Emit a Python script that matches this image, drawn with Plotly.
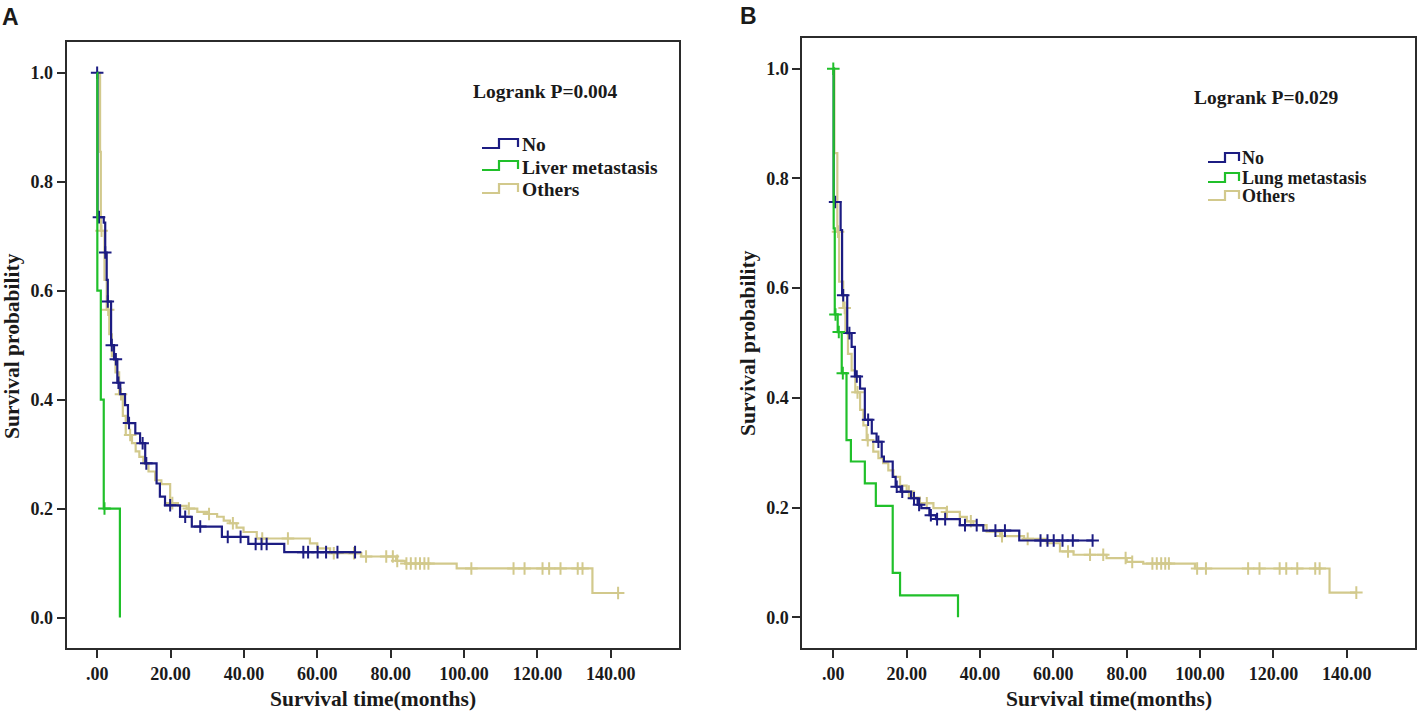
import numpy as np
import plotly.graph_objects as go

W, H = 1417, 712

# ---------------- data ----------------
x_tickvals = [0, 20, 40, 60, 80, 100, 120, 140]
x_ticktext = [".00", "20.00", "40.00", "60.00", "80.00", "100.00", "120.00", "140.00"]
y_tickvals = [0.0, 0.2, 0.4, 0.6, 0.8, 1.0]
y_ticktext = ["0.0", "0.2", "0.4", "0.6", "0.8", "1.0"]

group_names_a = ["No", "Liver metastasis", "Others"]
group_names_b = ["No", "Lung metastasis", "Others"]
pvalue_a = "Logrank P=0.004"
pvalue_b = "Logrank P=0.029"

# Panel A - No
a_no_t = [0.1, 1.8, 2.2, 2.6, 2.9, 3.8, 4.6, 5.5, 6.3, 7.6, 8.4, 10.4, 11.7, 13.1,
          16.2, 17.1, 18.5, 22.6, 25.8, 34.0, 41.2, 51.0]
a_no_s = [0.735, 0.725, 0.67, 0.62, 0.58, 0.50, 0.474, 0.431, 0.41, 0.39, 0.357, 0.338,
          0.32, 0.283, 0.246, 0.222, 0.206, 0.185, 0.167, 0.148, 0.135, 0.12]
a_no_end = 70.3
a_no_cens = [0.0, 0.5, 2.2, 2.9, 4.0, 5.1, 5.8, 8.7, 12.4, 13.4, 19.9, 24.0, 28.1,
             35.6, 39.1, 43.2, 44.8, 46.2, 56.2, 57.5, 60.1, 62.4, 65.5, 70.3]

# Panel A - Liver metastasis
a_liv_t = [0.05, 1.0, 1.8, 6.2]
a_liv_s = [0.6, 0.4, 0.2, 0.0]
a_liv_end = 6.2
a_liv_cens = [2.0]

# Panel A - Others
a_oth_t = [0.8, 1.0, 2.0, 2.6, 3.3, 4.0, 5.0, 6.0, 7.0, 7.8, 9.5, 10.5, 11.5, 12.6, 14.0,
           15.8, 17.5, 19.9, 22.0, 24.4, 27.3, 30.0, 32.7, 34.5, 36.2, 38.0, 39.9, 43.5,
           58.0, 60.0, 63.5, 72.0, 81.5, 84.0, 98.0, 135.0]
a_oth_s = [0.855, 0.71, 0.62, 0.565, 0.52, 0.48, 0.45, 0.41, 0.37, 0.335, 0.32, 0.305,
           0.295, 0.283, 0.268, 0.252, 0.245, 0.21, 0.205, 0.2, 0.194, 0.19, 0.185, 0.178,
           0.173, 0.165, 0.157, 0.145, 0.136, 0.127, 0.118, 0.112, 0.104, 0.099, 0.09, 0.045]
a_oth_end = 142.0
a_oth_cens = [1.2, 3.0, 6.5, 9.0, 20.5, 25.0, 30.5, 37.0, 45.0, 52.0, 64.5, 70.0,
              73.3, 78.8, 80.6, 81.8, 84.3, 85.5, 86.8, 88.0, 89.2, 90.3, 102.0, 113.5,
              116.5, 121.4, 123.2, 126.3, 131.0, 132.3, 142.0]

# Panel B - No
b_no_t = [0.1, 2.0, 2.4, 3.8, 5.0, 5.9, 7.3, 8.6, 10.5, 11.8, 13.2, 13.8, 16.2, 17.0,
          18.4, 21.2, 23.0, 24.0, 26.2, 28.0, 34.5, 40.9, 50.7]
b_no_s = [0.757, 0.706, 0.587, 0.518, 0.493, 0.439, 0.417, 0.36, 0.335, 0.32, 0.293,
          0.284, 0.256, 0.238, 0.229, 0.217, 0.205, 0.199, 0.186, 0.179, 0.168, 0.158, 0.14]
b_no_end = 70.7
b_no_cens = [0.5, 2.7, 4.4, 6.4, 9.5, 12.3, 17.3, 18.8, 22.0, 23.4, 26.6, 28.3, 30.5,
             35.9, 39.1, 44.2, 46.8, 56.5, 58.4, 60.1, 62.5, 65.3, 70.7]

# Panel B - Lung metastasis
b_lung_t = [0.1, 0.4, 1.2, 2.3, 3.6, 4.8, 8.6, 11.6, 16.2, 18.2, 34.0]
b_lung_s = [0.709, 0.552, 0.52, 0.445, 0.323, 0.284, 0.244, 0.203, 0.081, 0.04, 0.0]
b_lung_end = 34.0
b_lung_cens = [0.0, 0.6, 1.5, 2.6]

# Panel B - Others
b_oth_t = [0.3, 1.1, 1.6, 2.7, 3.3, 4.0, 5.0, 6.0, 7.3, 8.2, 9.1, 10.9, 12.3, 13.6, 15.0,
           16.4, 18.2, 20.0, 21.8, 23.6, 27.3, 30.9, 34.5, 36.4, 38.2, 41.8, 45.5, 52.0,
           58.2, 61.8, 65.5, 74.5, 80.0, 84.5, 98.6, 135.3]
b_oth_s = [0.846, 0.703, 0.612, 0.564, 0.52, 0.48, 0.45, 0.41, 0.378, 0.35, 0.323, 0.302,
           0.29, 0.281, 0.268, 0.256, 0.24, 0.229, 0.218, 0.208, 0.199, 0.192, 0.183, 0.175,
           0.168, 0.156, 0.148, 0.143, 0.135, 0.12, 0.114, 0.108, 0.101, 0.098, 0.089, 0.045]
b_oth_end = 142.6
b_oth_cens = [1.3, 3.1, 6.6, 9.4, 20.6, 25.5, 31.0, 37.5, 46.0, 53.0, 64.0, 70.0,
              73.6, 79.7, 81.5, 87.0, 88.2, 89.4, 90.5, 91.5, 99.2, 101.6, 113.1, 116.2,
              121.7, 123.5, 126.5, 131.4, 132.6, 142.6]

# ---------------- styles ----------------
C_NO = "#1c1c82"
C_MET = "#20c02a"
C_OTH = "#d2c98c"
SERIF = "Liberation Serif"
TXT = "#1a1a1a"
AXC = "#2b2b2b"


def km_line(t, s, end):
    x = [0.0] + list(t) + [end]
    y = [1.0] + list(s) + [s[-1]]
    return x, y


def censor_y(t, s, ct):
    t = np.asarray(t, dtype=float)
    s = np.asarray(s, dtype=float)
    ct = np.asarray(ct, dtype=float)
    idx = np.searchsorted(t, ct, side="right") - 1
    return np.where(idx >= 0, s[np.clip(idx, 0, None)], 1.0)


fig = go.Figure()


def add_group(t, s, end, cens, color, xa, ya, lw=2.2):
    x, y = km_line(t, s, end)
    fig.add_trace(go.Scatter(x=x, y=y, mode="lines", line=dict(color=color, width=lw, shape="hv"),
                             xaxis=xa, yaxis=ya, hoverinfo="skip", showlegend=False))
    fig.add_trace(go.Scatter(x=cens, y=censor_y(t, s, cens), mode="markers",
                             marker=dict(symbol="cross-thin", size=9,
                                         line=dict(color=color, width=2)),
                             xaxis=xa, yaxis=ya, hoverinfo="skip", showlegend=False))


# order: Others underneath, then No, then metastasis
add_group(a_oth_t, a_oth_s, a_oth_end, a_oth_cens, C_OTH, "x", "y")
add_group(a_no_t, a_no_s, a_no_end, a_no_cens, C_NO, "x", "y")
add_group(a_liv_t, a_liv_s, a_liv_end, a_liv_cens, C_MET, "x", "y")

add_group(b_oth_t, b_oth_s, b_oth_end, b_oth_cens, C_OTH, "x2", "y2")
add_group(b_no_t, b_no_s, b_no_end, b_no_cens, C_NO, "x2", "y2")
add_group(b_lung_t, b_lung_s, b_lung_end, b_lung_cens, C_MET, "x2", "y2")


def px(xp):
    return xp / W


def py(yp):
    return 1 - yp / H


ax_common = dict(showgrid=False, zeroline=False, showline=True, linecolor=AXC, linewidth=2,
                 mirror=True, ticks="outside", ticklen=8, tickwidth=1.5, tickcolor=AXC,
                 tickfont=dict(family=SERIF, size=18, color=TXT, weight="bold"))

fig.update_layout(
    width=W, height=H, margin=dict(l=0, r=0, t=0, b=0),
    paper_bgcolor="white", plot_bgcolor="white", showlegend=False,
    xaxis=dict(domain=[px(66.7), px(679)], range=[-8.3, 158.6], anchor="y",
               tickvals=x_tickvals, ticktext=x_ticktext, **ax_common),
    yaxis=dict(domain=[py(648), py(42.3)], range=[-0.056, 1.056], anchor="x",
               tickvals=y_tickvals, ticktext=y_ticktext, **ax_common),
    xaxis2=dict(domain=[px(802.3), px(1415)], range=[-8.45, 158.6], anchor="y2",
                tickvals=x_tickvals, ticktext=x_ticktext, **ax_common),
    yaxis2=dict(domain=[py(648.3), py(38.3)], range=[-0.0565, 1.0554], anchor="x2",
                tickvals=y_tickvals, ticktext=y_ticktext, **ax_common),
)

ann = []
shapes = []


def text(xp, yp, s, size, xanchor="center", angle=0, family=SERIF):
    ann.append(dict(x=px(xp), y=py(yp), xref="paper", yref="paper", text=s, showarrow=False,
                    xanchor=xanchor, yanchor="middle", textangle=angle,
                    font=dict(family=family, size=size, color=TXT, weight="bold")))


# panel letters
text(0, 17, "A", 23, xanchor="left", family="Liberation Sans")
text(738, 16, "B", 23, xanchor="left", family="Liberation Sans")

# axis titles
text(12, 346, "Survival probability", 21.5, angle=-90)
text(748, 343, "Survival probability", 21.5, angle=-90)
text(373, 699, "Survival time(months)", 21.5)
text(1109, 699, "Survival time(months)", 21.5)

# logrank
text(471, 92, pvalue_a, 19.5, xanchor="left")
text(1192, 98, pvalue_b, 19.5, xanchor="left")


def legend_icon(x0, xm, x1, yc, up, down, color):
    path = (f"M {px(x0)},{py(yc + down)} L {px(xm)},{py(yc + down)} L {px(xm)},{py(yc - up)} "
            f"L {px(x1)},{py(yc - up)} L {px(x1)},{py(yc + down - 1)}")
    shapes.append(dict(type="path", path=path, xref="paper", yref="paper",
                       line=dict(color=color, width=2.2)))


colors = [C_NO, C_MET, C_OTH]
for name, yc, c in zip(group_names_a, [145, 167, 190], colors):
    legend_icon(482, 499, 518, yc, 6, 3, c)
    text(520, yc, name, 19.5, xanchor="left")

for name, yc, c in zip(group_names_b, [158, 178, 196], colors):
    legend_icon(1208, 1225, 1239, yc, 5, 4, c)
    text(1240, yc, name, 18, xanchor="left")

fig.update_layout(annotations=ann, shapes=shapes)

fig.write_html("out.html", config={"displayModeBar": False},
               post_script="document.body.style.margin='0px';")
